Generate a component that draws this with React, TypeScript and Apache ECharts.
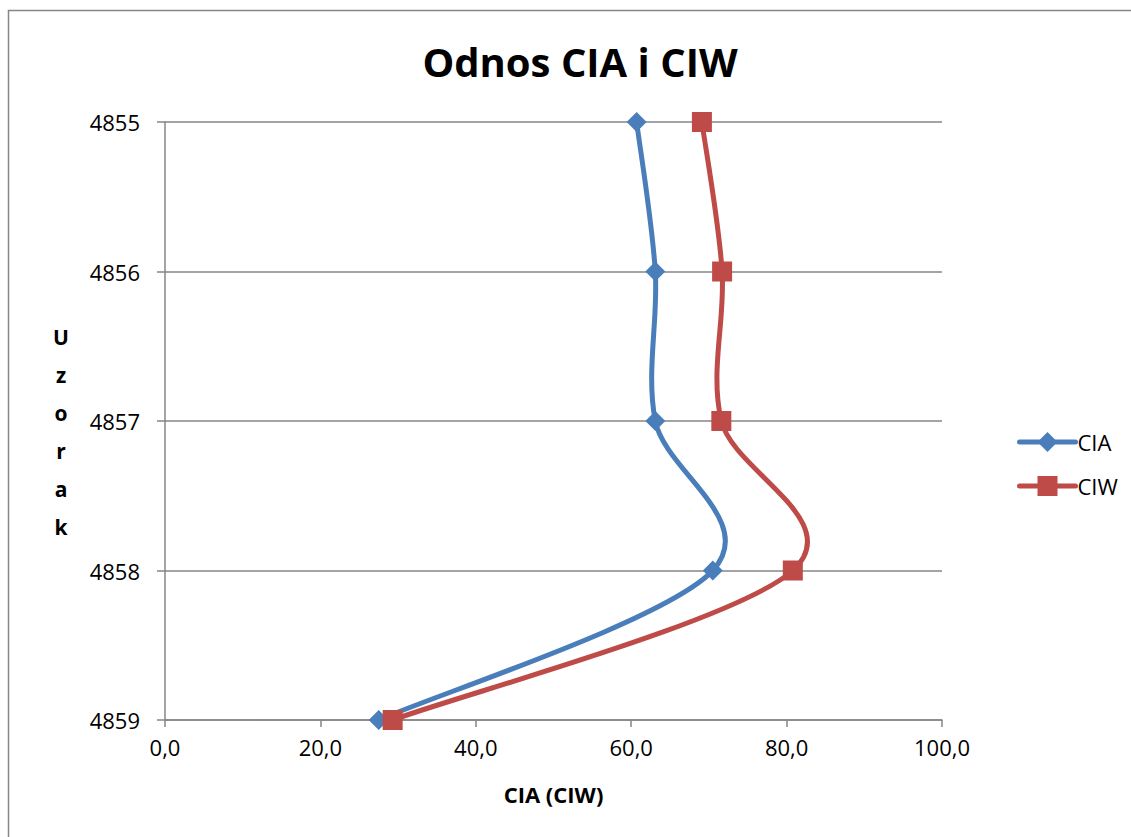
import React, { useEffect, useRef } from "react";
import * as echarts from "echarts";

const samples = ["4855", "4856", "4857", "4858", "4859"];
const ciaValues = [60.7, 63.1, 63.1, 70.5, 27.5];
const ciwValues = [69.1, 71.7, 71.6, 80.8, 29.3];
const xTicks = [0, 20, 40, 60, 80, 100];

const FONT = "'Open Sans', 'Noto Sans', sans-serif";
const BLUE = "#4A7EBB";
const RED = "#BE4B48";

// Excel-like smoothed curve: Catmull-Rom segments drawn as cubic Beziers
function curveSeries(name: string, values: number[], color: string) {
  return {
    name,
    type: "custom",
    coordinateSystem: "cartesian2d",
    data: values.map((v, i) => [v, i]),
    encode: { x: 0, y: 1 },
    z: 2,
    silent: true,
    renderItem: (params: any, api: any) => {
      const i = params.dataIndex;
      const n = values.length;
      if (i >= n - 1) return null;
      const pt = (k: number) => {
        const kk = Math.max(0, Math.min(n - 1, k));
        return api.coord([values[kk], kk]);
      };
      const p0 = pt(i - 1);
      const p1 = pt(i);
      const p2 = pt(i + 1);
      const p3 = pt(i + 2);
      const cp1 = [p1[0] + (p2[0] - p0[0]) / 6, p1[1] + (p2[1] - p0[1]) / 6];
      const cp2 = [p2[0] - (p3[0] - p1[0]) / 6, p2[1] - (p3[1] - p1[1]) / 6];
      return {
        type: "bezierCurve",
        shape: {
          x1: p1[0],
          y1: p1[1],
          x2: p2[0],
          y2: p2[1],
          cpx1: cp1[0],
          cpy1: cp1[1],
          cpx2: cp2[0],
          cpy2: cp2[1],
        },
        style: { stroke: color, lineWidth: 5, fill: "none", lineCap: "round" },
      };
    },
  };
}

function markerSeries(name: string, values: number[], color: string, symbol: string, size: number, z: number) {
  return {
    name,
    type: "line",
    data: values,
    symbol,
    symbolSize: size,
    showAllSymbol: true,
    z,
    lineStyle: { color, width: 0, opacity: 0 },
    itemStyle: { color },
  };
}

export default function App() {
  const ref = useRef<HTMLDivElement>(null);
  useEffect(() => {
    document.body.style.margin = "0";
    const chart = echarts.init(ref.current!, null, { renderer: "svg" });
    chart.setOption({
      animation: false,
      backgroundColor: "#ffffff",
      title: {
        text: "Odnos CIA i CIW",
        left: 575,
        top: 36,
        textAlign: "center",
        textStyle: { fontFamily: FONT, fontWeight: "bold", fontSize: 40, color: "#000" },
      },
      graphic: [
        {
          type: "rect",
          shape: { x: 8.5, y: 10.5, width: 1140, height: 840 },
          style: { fill: "none", stroke: "#868686", lineWidth: 1.5 },
          silent: true,
        },
        {
          type: "text",
          x: 61,
          y: 318,
          style: {
            text: "U\nz\no\nr\na\nk",
            fontFamily: FONT,
            fontWeight: "bold",
            fontSize: 21,
            lineHeight: 38,
            fill: "#000",
            align: "center",
          },
        },
      ],
      legend: {
        orient: "vertical",
        left: 1012,
        top: 426,
        itemGap: 22,
        itemWidth: 56,
        itemHeight: 25,
        textStyle: { fontFamily: FONT, fontSize: 22, color: "#000", padding: [0, 0, 0, -3] },
        data: [
          { name: "CIA", lineStyle: { color: BLUE, width: 5, opacity: 1, cap: "round" } },
          { name: "CIW", lineStyle: { color: RED, width: 5, opacity: 1, cap: "round" } },
        ],
      },
      grid: { left: 165, right: 189, top: 122, bottom: 117 },
      xAxis: {
        type: "value",
        min: 0,
        max: 100,
        interval: 20,
        name: "CIA (CIW)",
        nameLocation: "middle",
        nameGap: 63,
        nameTextStyle: { fontFamily: FONT, fontWeight: "bold", fontSize: 22, color: "#000" },
        axisLine: { show: true, lineStyle: { color: "#868686", width: 1.5 } },
        axisTick: { show: true, length: 7, lineStyle: { color: "#868686", width: 1.5 } },
        axisLabel: {
          margin: 16,
          fontFamily: FONT,
          fontSize: 22,
          color: "#000",
          formatter: (v: number) => (xTicks.includes(v) ? v.toFixed(1).replace(".", ",") : ""),
        },
        splitLine: { show: false },
      },
      yAxis: {
        type: "category",
        data: samples,
        inverse: true,
        boundaryGap: false,
        axisLine: { show: true, lineStyle: { color: "#868686", width: 1.5 } },
        axisTick: { show: true, length: 8, alignWithLabel: true, lineStyle: { color: "#868686", width: 1.5 } },
        axisLabel: { margin: 25, fontFamily: FONT, fontSize: 22, color: "#000" },
        splitLine: { show: true, lineStyle: { color: "#868686", width: 1.5 } },
      },
      series: [
        curveSeries("CIA curve", ciaValues, BLUE),
        curveSeries("CIW curve", ciwValues, RED),
        markerSeries("CIA", ciaValues, BLUE, "diamond", 20, 3),
        markerSeries("CIW", ciwValues, RED, "rect", 20, 4),
      ],
    });
    return () => chart.dispose();
  }, []);
  return <div ref={ref} style={{ width: 1131, height: 837 }} />;
}
